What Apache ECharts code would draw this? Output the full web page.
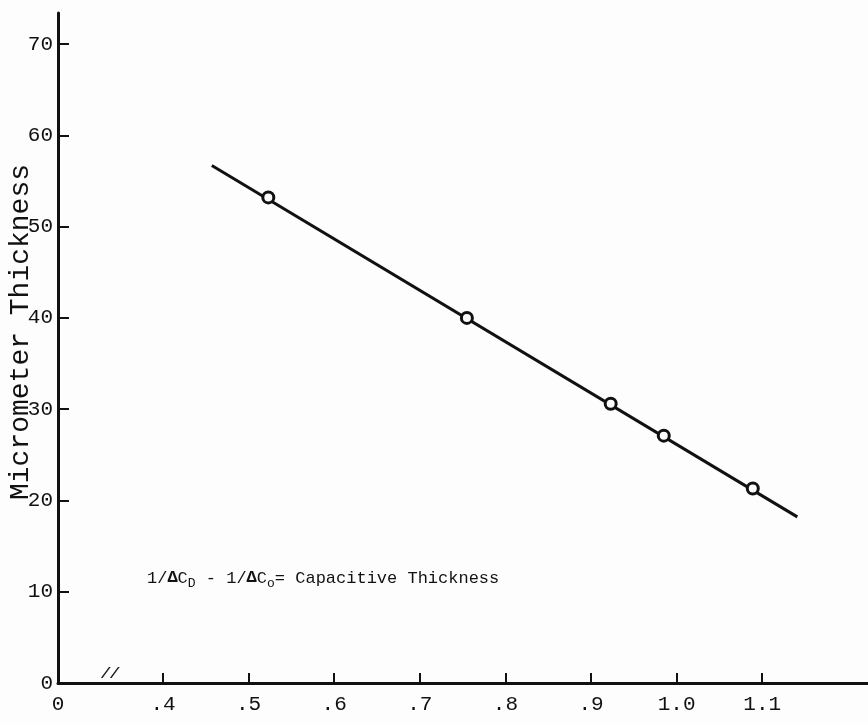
<!DOCTYPE html>
<html>
<head>
<meta charset="utf-8">
<script src="https://cdn.jsdelivr.net/npm/echarts@6/dist/echarts.min.js"></script>
<style>
  html, body { margin: 0; padding: 0; background: #fdfdfd; }
  #chart { width: 868px; height: 724px; }
</style>
</head>
<body>
<div id="chart"></div>
<script>
// measured points (capacitive thickness vs micrometer thickness)
const capThickness = [0.523, 0.755, 0.923, 0.985, 1.089]
const micThickness = [53.2, 40.0, 30.6, 27.1, 21.3]
// end points of the drawn straight line
const fitX = [0.457, 1.141]
const fitY = [56.7, 18.2]
// x axis is broken between 0 and .4
const xTicks = [0.4, 0.5, 0.6, 0.7, 0.8, 0.9, 1.0, 1.1]
const xTickLabels = ['.4', '.5', '.6', '.7', '.8', '.9', '1.0', '1.1']
const xOrigin = 0.2773
const xOriginLabel = '0'
const xBreakAt = 0.338
const yMax = 73.4

const ink = '#111'
const paper = '#fdfdfd'
const font = 'Liberation Mono'

const chart = echarts.init(document.getElementById('chart'))

function xLabel(v) {
  const i = xTicks.findIndex(t => Math.abs(t - v) < 1e-6)
  return i >= 0 ? xTickLabels[i] : xOriginLabel
}

chart.setOption({
  backgroundColor: paper,
  animation: false,
  grid: {
    left: 58,
    right: 0,
    top: 13,
    bottom: 41
  },
  xAxis: {
    type: 'value',
    min: xOrigin,
    max: 1.2236,
    splitLine: { show: false },
    axisLine: { lineStyle: { color: ink, width: 3 } },
    axisTick: {
      customValues: xTicks,
      inside: true,
      length: 10,
      lineStyle: { color: ink, width: 2 }
    },
    axisLabel: {
      customValues: [xOrigin].concat(xTicks),
      formatter: xLabel,
      color: ink,
      fontFamily: font,
      fontSize: 21,
      margin: 11
    }
  },
  yAxis: {
    type: 'value',
    min: 0,
    max: yMax,
    interval: 10,
    splitLine: { show: false },
    axisLine: { lineStyle: { color: ink, width: 3 } },
    axisTick: {
      inside: true,
      length: 11,
      lineStyle: { color: ink, width: 2 }
    },
    axisLabel: {
      showMaxLabel: false,
      formatter: v => (v > 70 ? '' : v),
      color: ink,
      fontFamily: font,
      fontSize: 21,
      margin: 5
    }
  },
  series: [
    {
      type: 'line',
      data: fitX.map((x, i) => [x, fitY[i]]),
      showSymbol: false,
      lineStyle: { color: ink, width: 3 },
      z: 2
    },
    {
      type: 'scatter',
      data: capThickness.map((x, i) => [x, micThickness[i]]),
      symbol: 'circle',
      symbolSize: 11,
      itemStyle: { color: paper, borderColor: ink, borderWidth: 3, opacity: 1 },
      z: 3
    }
  ]
})

const breakPos = chart.convertToPixel({ gridIndex: 0 }, [xBreakAt, 0])

chart.setOption({
  graphic: [
    {
      type: 'text',
      x: 21,
      y: 332,
      rotation: Math.PI / 2,
      style: {
        text: 'Micrometer Thickness',
        fontFamily: font,
        fontSize: 28,
        fill: ink,
        align: 'center',
        verticalAlign: 'middle'
      }
    },
    {
      type: 'text',
      x: breakPos[0],
      y: breakPos[1] - 1,
      style: {
        text: '//',
        fontFamily: font,
        fontSize: 15,
        fontWeight: 'bold',
        fontStyle: 'italic',
        fill: ink,
        align: 'center',
        verticalAlign: 'bottom'
      }
    },
    {
      type: 'text',
      x: 147,
      y: 578,
      style: {
        text: '1/{d|Δ}C{s|D} - 1/{d|Δ}C{s|o}= Capacitive Thickness',
        fontFamily: font,
        fontSize: 17,
        fill: ink,
        verticalAlign: 'middle',
        rich: {
          d: { fontFamily: font, fontSize: 17, fontWeight: 'bold', fill: ink },
          s: { fontFamily: font, fontSize: 13, fill: ink, padding: [12, 0, 0, 0] }
        }
      }
    }
  ]
})
</script>
</body>
</html>
